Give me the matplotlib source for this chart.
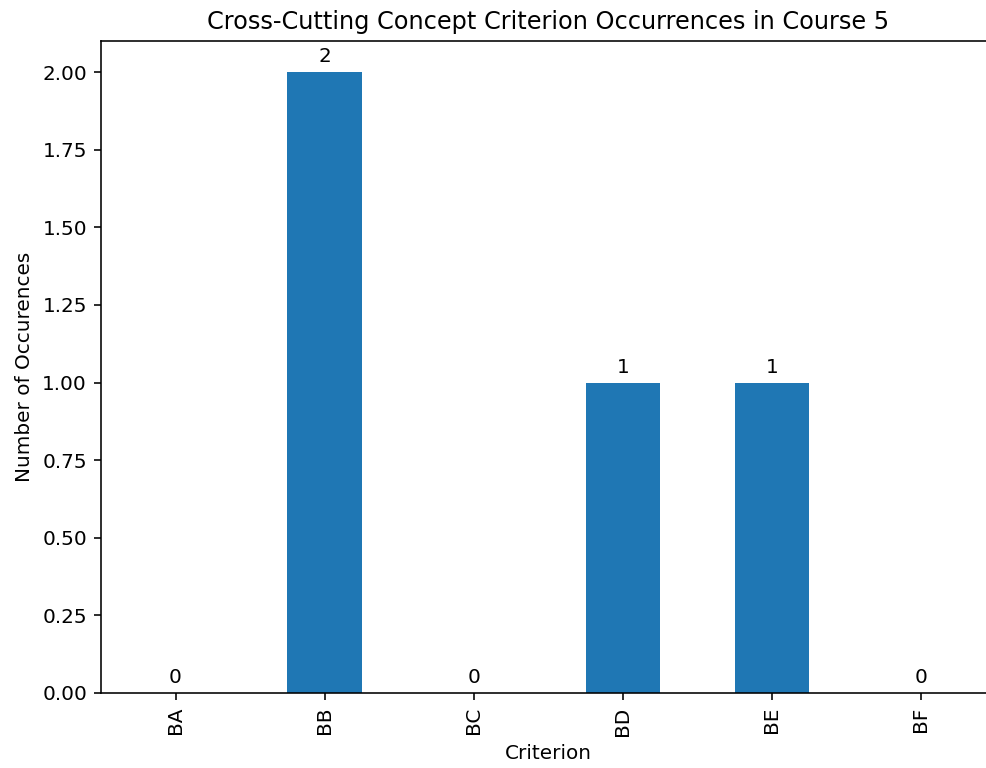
import matplotlib
matplotlib.use("Agg")
import matplotlib.pyplot as plt

categories = ["BA", "BB", "BC", "BD", "BE", "BF"]
values = [0, 2, 0, 1, 1, 0]
yticks = [0, 0.25, 0.5, 0.75, 1.0, 1.25, 1.5, 1.75, 2.0]

s = 1.44
plt.rcParams.update({
    "font.family": "DejaVu Sans",
    "font.size": 10 * s,
    "axes.linewidth": 0.8 * s,
    "xtick.major.width": 0.8 * s,
    "ytick.major.width": 0.8 * s,
    "xtick.major.size": 3.5 * s,
    "ytick.major.size": 3.5 * s,
    "xtick.major.pad": 3.5 * s,
    "ytick.major.pad": 3.5 * s,
    "axes.titlepad": 6 * s,
    "axes.labelpad": 4 * s,
})

fig = plt.figure(figsize=(9.86, 7.68), dpi=100)
ax = fig.add_axes([101 / 986, 1 - 693 / 768, 894.5 / 986, (693 - 41) / 768])

x = list(range(len(categories)))
bars = ax.bar(x, values, width=0.5, color="#1f77b4")
ax.set_xlim(-0.5, len(categories) - 0.5)
ax.set_ylim(0, 2.1)
ax.set_xticks(x)
ax.set_xticklabels(categories, rotation=90)
ax.set_yticks(yticks)
ax.set_yticklabels([f"{v:.2f}" for v in yticks])
ax.bar_label(bars, padding=3 * s, fontsize=10 * s)
ax.set_title("Cross-Cutting Concept Criterion Occurrences in Course 5", fontsize=12 * s)
ax.set_xlabel("Criterion")
ax.set_ylabel("Number of Occurences")

fig.savefig("out.png", dpi=100)
